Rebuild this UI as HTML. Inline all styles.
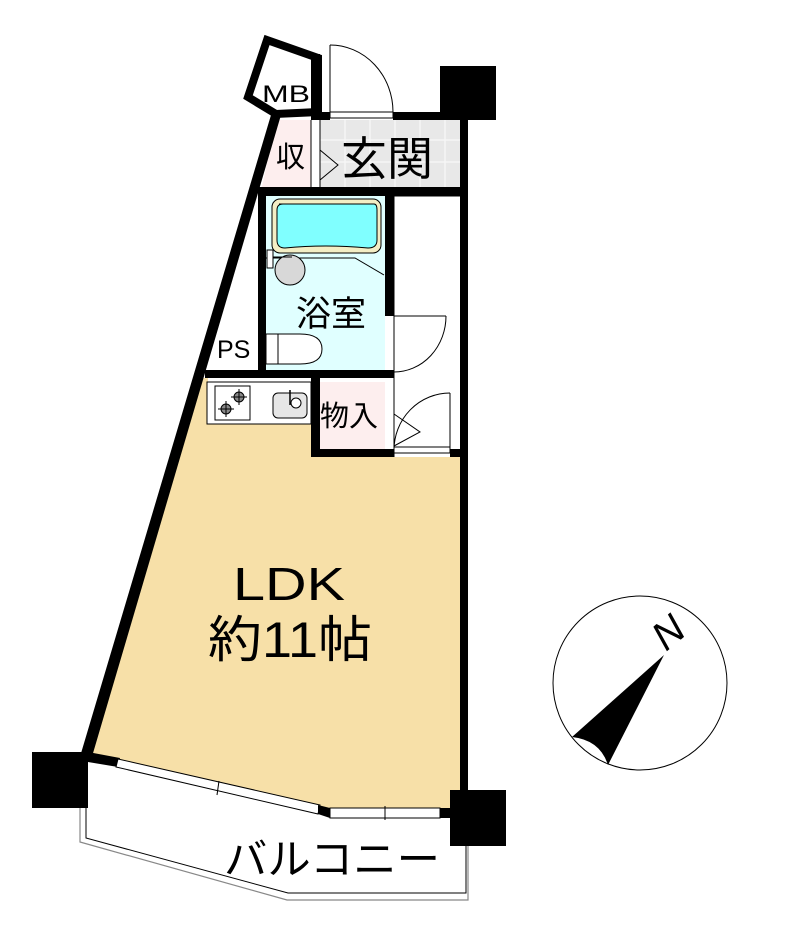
<!DOCTYPE html>
<html><head><meta charset="utf-8"><style>
html,body{margin:0;padding:0;background:#fff;}
svg{display:block;}
text{font-family:"Liberation Sans","Noto Sans CJK JP",sans-serif;}
</style></head><body>
<svg width="800" height="940" viewBox="0 0 800 940" xmlns="http://www.w3.org/2000/svg">
<!-- LDK fill -->
<polygon points="198,378 208,378 208,424 311,424 311,457 462,457 462,808 330,808 85,760" fill="#f7e0a8"/>
<!-- genkan tiles -->
<rect x="320" y="120" width="140" height="67" fill="#e8e8e8"/>
<g stroke="#f6f6f6" stroke-width="1.5">
<line x1="320" y1="140" x2="460" y2="140"/><line x1="320" y1="162" x2="460" y2="162"/>
<line x1="345" y1="120" x2="345" y2="187"/><line x1="370" y1="120" x2="370" y2="187"/><line x1="395" y1="120" x2="395" y2="187"/><line x1="420" y1="120" x2="420" y2="187"/><line x1="445" y1="120" x2="445" y2="187"/>
</g>
<!-- closet pink -->
<polygon points="276,120 311,120 311,187 262,187" fill="#fdeeee"/>
<rect x="320" y="382" width="65" height="68" fill="#fdeeee"/>
<line x1="320" y1="120" x2="320" y2="187" stroke="#000" stroke-width="1"/>
<line x1="311" y1="120" x2="311" y2="187" stroke="#000" stroke-width="1"/>
<polyline points="320,150 338,165 320,180" fill="none" stroke="#000" stroke-width="1"/>
<!-- bath -->
<rect x="266" y="196" width="119" height="174" fill="#e0ffff"/>
<polyline points="266,258 355,258 384,275" fill="none" stroke="#000" stroke-width="1"/>
<rect x="272" y="199" width="109" height="54" rx="8" fill="#f3eec5" stroke="#000" stroke-width="1"/>
<path d="M279,204 H374 Q377,204 377,210 V240 Q377,248 368,248 Q325,244 285,248 Q277,248 277,240 V210 Q277,204 283,204Z" fill="#80ffff" stroke="#000" stroke-width="1"/>
<circle cx="290" cy="270" r="15" fill="#d8d8d8" stroke="#000" stroke-width="1"/>
<rect x="267" y="250" width="6" height="18" fill="#fff" stroke="#000" stroke-width="1"/>
<line x1="273" y1="257" x2="292" y2="257" stroke="#000" stroke-width="1"/>
<path d="M266,334 H300 Q322,334 322,349 Q322,364 300,364 H266 Z" fill="#fff" stroke="#000" stroke-width="1"/>
<line x1="278" y1="334" x2="278" y2="364" stroke="#000" stroke-width="1"/>
<!-- kitchen counter -->
<rect x="207" y="382" width="104" height="42" fill="#fff" stroke="#000" stroke-width="1"/>
<rect x="215" y="386" width="35" height="34" fill="#fff" stroke="#000" stroke-width="1"/>
<g fill="#888" stroke="#000" stroke-width="1"><circle cx="239" cy="397" r="5"/><circle cx="226" cy="409" r="5"/></g>
<g stroke="#000" stroke-width="1"><line x1="231" y1="397" x2="247" y2="397"/><line x1="239" y1="389" x2="239" y2="405"/><line x1="218" y1="409" x2="234" y2="409"/><line x1="226" y1="401" x2="226" y2="417"/></g>
<rect x="273" y="393" width="34" height="25" rx="5" fill="#e6e6e6" stroke="#000" stroke-width="1"/>
<circle cx="296" cy="403" r="5" fill="#fff" stroke="#000" stroke-width="1"/>
<line x1="290" y1="390" x2="290" y2="405" stroke="#000" stroke-width="1.5"/>
<!-- doors -->
<g fill="none" stroke="#000" stroke-width="1">
<rect x="330" y="112" width="63" height="6" fill="#fff"/>
<line x1="330" y1="45" x2="330" y2="112"/>
<path d="M330,45 A63,67 0 0 1 393,112"/>
<line x1="394" y1="316" x2="446" y2="316"/>
<path d="M446,316 A52,56 0 0 1 394,372"/>
<line x1="394" y1="316" x2="394" y2="372"/>
<line x1="450" y1="393" x2="450" y2="450"/>
<path d="M450,393 A56,57 0 0 0 394,450"/>
<polyline points="394,414 420,432 394,446"/>
<rect x="394" y="447" width="56" height="6" fill="#fff"/>
<line x1="394" y1="187" x2="394" y2="457"/>
<line x1="394" y1="196" x2="460" y2="196"/>
</g>
<!-- walls -->
<g fill="#000">
<rect x="318" y="112" width="12" height="8"/>
<rect x="393" y="112" width="75" height="8"/>
<rect x="460" y="112" width="8" height="690"/>
<rect x="440" y="66" width="56" height="54"/>
<rect x="258" y="187" width="210" height="9"/>
<rect x="385" y="196" width="9" height="120"/>
<rect x="385" y="370" width="9" height="8"/>
<rect x="258" y="196" width="8" height="182"/>
<rect x="205" y="370" width="189" height="8"/>
<rect x="311" y="378" width="9" height="79"/>
<rect x="311" y="449" width="83" height="8"/>
<rect x="450" y="449" width="18" height="8"/>
<rect x="32" y="752" width="56" height="56"/>
<rect x="450" y="790" width="56" height="56"/>
</g>
<polygon points="271,115 281,115 91,760 79,760" fill="#000"/>
<polygon points="267,40 318,58 318,112 276,114 248,97" fill="none" stroke="#000" stroke-width="8" stroke-linejoin="miter"/>
<rect x="311" y="54" width="9" height="66" fill="#000"/>
<!-- bottom wall with windows -->
<polygon points="88,752 120,758 118,767 88,762" fill="#000"/>
<polygon points="118,759 320,805 318,814 116,767" fill="#fff" stroke="#000" stroke-width="1"/>
<line x1="219" y1="781" x2="217" y2="795" stroke="#000" stroke-width="1"/>
<polygon points="318,805 330,808 330,818 318,814" fill="#000"/>
<rect x="330" y="808" width="110" height="10" fill="#fff" stroke="#000" stroke-width="1"/>
<line x1="385" y1="806" x2="385" y2="820" stroke="#000" stroke-width="1"/>
<rect x="440" y="808" width="12" height="10" fill="#000"/>
<!-- balcony -->
<polyline points="86,808 86,838 288,893 466,893 466,846" fill="none" stroke="#000" stroke-width="1"/>
<polyline points="80,808 80,842 287,900 468,900 468,846" fill="none" stroke="#888" stroke-width="1.2"/>
<!-- labels -->
<text x="262" y="102" font-size="24" textLength="48" lengthAdjust="spacingAndGlyphs">MB</text>
<text x="276" y="167" font-size="29" font-family="Noto Sans CJK JP">収</text>
<text x="341" y="175" font-size="46" font-family="Noto Sans CJK JP">玄関</text>
<text x="296" y="326" font-size="35" font-family="Noto Sans CJK JP">浴室</text>
<text x="217" y="358" font-size="25">PS</text>
<text x="320" y="426" font-size="29" font-family="Noto Sans CJK JP">物入</text>
<text x="233" y="600" font-size="46" textLength="112" lengthAdjust="spacingAndGlyphs">LDK</text>
<text x="208" y="657" font-size="50" font-family="Noto Sans CJK JP" textLength="164" lengthAdjust="spacingAndGlyphs">約11帖</text>
<text x="224" y="874" font-size="42" font-family="Noto Sans CJK JP" textLength="216" lengthAdjust="spacingAndGlyphs">バルコニー</text>
<!-- compass -->
<circle cx="640" cy="683" r="87" fill="#fff" stroke="#000" stroke-width="1"/>
<path d="M664,655 L572,737 Q600,740 608,765 Z" fill="#000"/>
<text x="0" y="0" font-size="40" font-family="Liberation Serif" font-style="italic" transform="translate(666,652) rotate(-40)">N</text>
</svg>
</body></html>
